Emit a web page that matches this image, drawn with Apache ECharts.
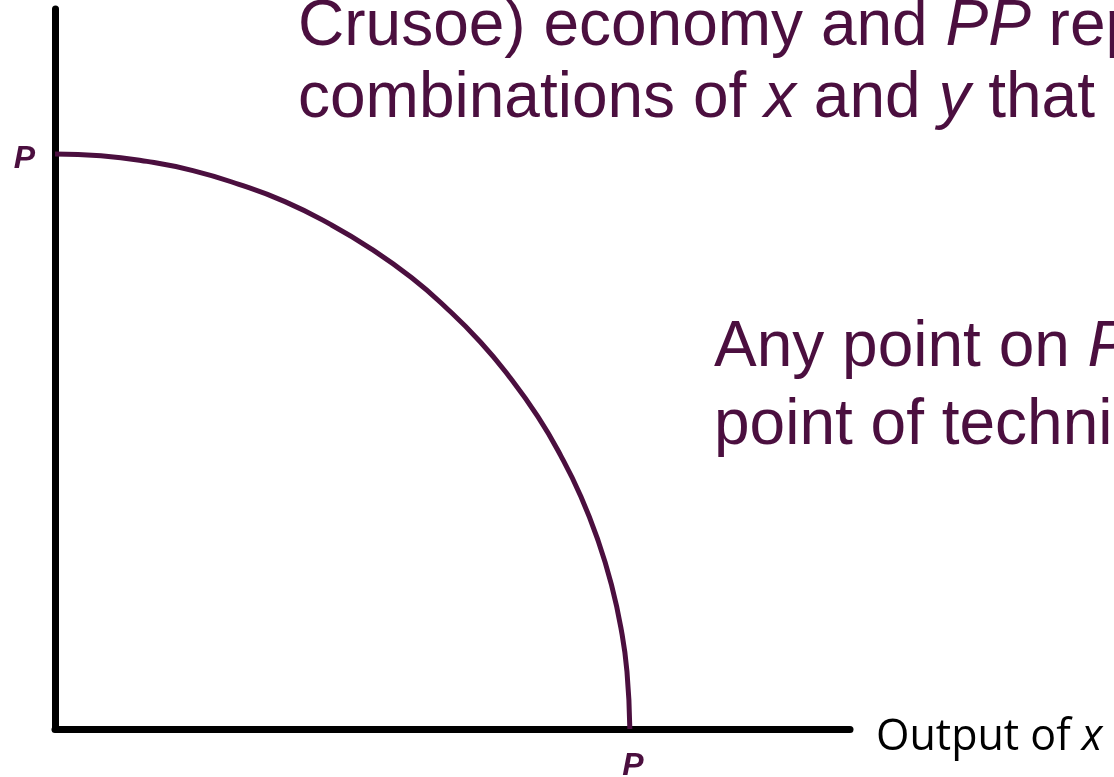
<!DOCTYPE html>
<html>
<head>
<meta charset="utf-8">
<script src="https://cdn.jsdelivr.net/npm/echarts@6/dist/echarts.min.js"></script>
<style>
  html, body { margin: 0; padding: 0; background: #fff; }
  #ppfChart { width: 1114px; height: 777px; }
</style>
</head>
<body>
<div id="ppfChart"></div>
<script>
// frontier PP (output of x, output of y)
var frontierX = [0, 0.8, 1.6, 2.4, 3.2, 4.0, 4.8, 5.5, 6.2, 6.8, 7.4, 7.9, 8.4, 8.8, 9.15, 9.45, 9.68, 9.85, 9.95, 10];
var frontierY = [10, 9.97, 9.87, 9.71, 9.47, 9.17, 8.77, 8.35, 7.85, 7.33, 6.73, 6.13, 5.43, 4.75, 4.04, 3.27, 2.51, 1.73, 1.0, 0];
var endLabels = ["P", "P"];
var xAxisMax = 13.83;
var yAxisMax = 12.52;

var purple = "#4b0f3f";

var seriesData = frontierX.map(function (x, i) {
  var item = { value: [x, frontierY[i]] };
  if (i === 0) {
    item.label = {
      show: true,
      formatter: endLabels[0],
      position: "left",
      distance: 20,
      offset: [0, 5],
    };
  } else if (i === frontierX.length - 1) {
    item.label = {
      show: true,
      formatter: endLabels[1],
      position: "bottom",
      distance: 21,
      offset: [3, 0],
    };
  }
  return item;
});

var chart = echarts.init(document.getElementById("ppfChart"));
var option = {
  animation: false,
  backgroundColor: "#ffffff",
  grid: { left: 55, top: 9, right: 264, bottom: 48 },
  xAxis: {
    type: "value",
    min: 0,
    max: xAxisMax,
    axisLine: { show: true, onZero: false, lineStyle: { color: "#000", width: 7 } },
    axisTick: { show: false },
    axisLabel: { show: false },
    splitLine: { show: false },
  },
  yAxis: {
    type: "value",
    min: 0,
    max: yAxisMax,
    axisLine: { show: true, onZero: false, lineStyle: { color: "#000", width: 7 } },
    axisTick: { show: false },
    axisLabel: { show: false },
    splitLine: { show: false },
  },
  series: [
    {
      name: "PP",
      type: "line",
      data: seriesData,
      smooth: true,
      showSymbol: true,
      symbol: "circle",
      symbolSize: 0,
      itemStyle: { color: "transparent" },
      clip: false,
      lineStyle: { color: purple, width: 5 },
      label: {
        show: false,
        color: purple,
        fontFamily: "Liberation Sans",
        fontWeight: "bold",
        fontStyle: "italic",
        fontSize: 32,
      },
    },
  ],
  graphic: [
    {
      type: "text",
      left: 298,
      top: -5,
      style: {
        text: "{n|Crusoe) economy and }{i|PP}{n| represents the}",
        rich: {
          n: { fontFamily: "Liberation Sans", fontSize: 64, fill: purple },
          i: { fontFamily: "Liberation Sans", fontSize: 64, fontStyle: "italic", fill: purple },
        },
      },
    },
    {
      type: "text",
      left: 298,
      top: 67,
      style: {
        text: "{n|combinations of }{i|x}{n| and }{i|y}{n| that can be produced}",
        rich: {
          n: { fontFamily: "Liberation Sans", fontSize: 64, fill: purple },
          i: { fontFamily: "Liberation Sans", fontSize: 64, fontStyle: "italic", fill: purple },
        },
      },
    },
    {
      type: "text",
      left: 714,
      top: 316,
      style: {
        text: "{n|Any point on }{i|PP}{n| is a}",
        rich: {
          n: { fontFamily: "Liberation Sans", fontSize: 64, fill: purple },
          i: { fontFamily: "Liberation Sans", fontSize: 64, fontStyle: "italic", fill: purple },
        },
      },
    },
    {
      type: "text",
      left: 714,
      top: 394,
      style: {
        text: "{n|point of technical efficiency}",
        rich: {
          n: { fontFamily: "Liberation Sans", fontSize: 64, fill: purple },
        },
      },
    },
    {
      type: "text",
      left: 876,
      top: 716,
      style: {
        text: "{n|Output of }{i|x}",
        rich: {
          n: { fontFamily: "Open Sans", fontSize: 43, fill: "#000" },
          i: { fontFamily: "Open Sans", fontSize: 43, fontStyle: "italic", fill: "#000" },
        },
      },
    },
  ],
};
chart.setOption(option);
</script>
</body>
</html>
